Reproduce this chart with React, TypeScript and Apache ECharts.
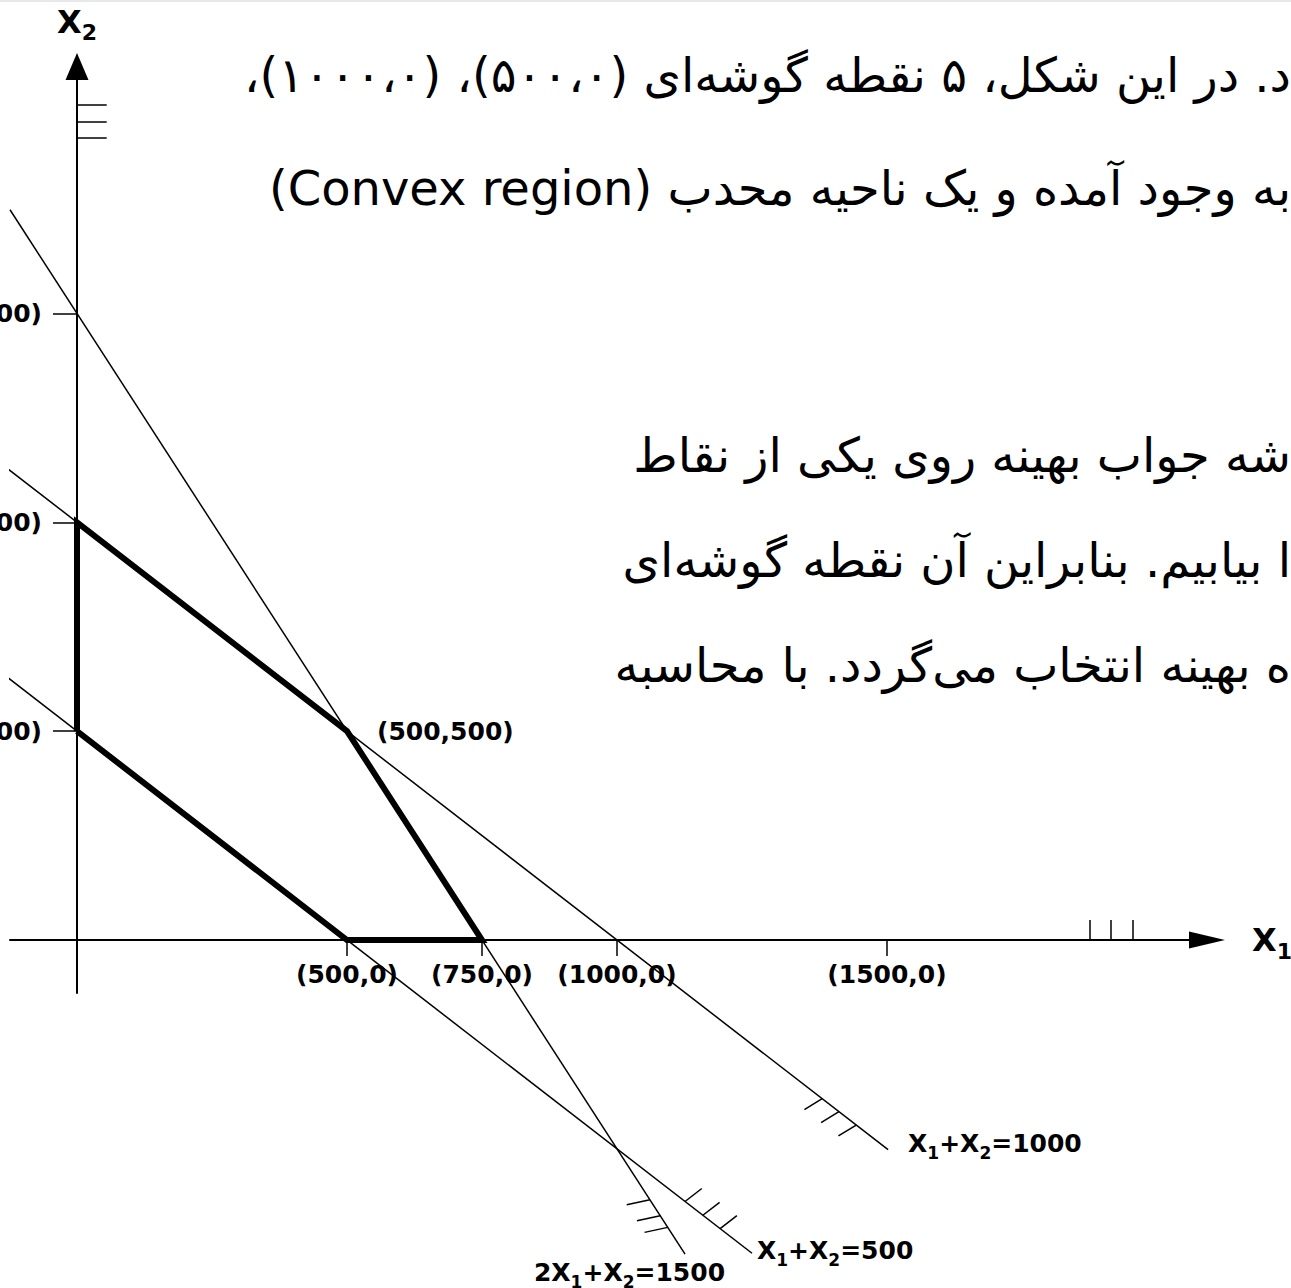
import React, { useEffect, useRef } from "react";
import * as echarts from "echarts";

// ---------- data ----------
const xTickValues = [500, 750, 1000, 1500];
const yTickValues = [500, 1000, 1500];

// constraint lines (x1, x2) end points
const line1000 = [[-142.6, 1142.6], [1502, -502]];
const line500 = [[-142.6, 642.6], [1250, -750]];
const line1500 = [[-124.1, 1748.2], [1126, -752]];

// feasible region boundary
const feasibleRegion = [[0, 500], [0, 1000], [500, 500], [750, 0], [500, 0], [0, 500]];

// hatch marks (start, end) in data coordinates
const hatchOn1000 = [
  [[1380, -380], [1347, -406]],
  [[1411, -411], [1378, -437]],
  [[1443, -443], [1410, -469]],
];
const hatchOn500 = [
  [[1126, -626], [1157, -595]],
  [[1159, -659], [1190, -628]],
  [[1191, -691], [1222, -660]],
];
const hatchOn1500 = [
  [[1061, -622], [1018, -634]],
  [[1080, -660], [1037, -672]],
  [[1094, -688], [1051, -700]],
];
const hatchYAxis = [
  [[0, 2000], [55, 2000]],
  [[0, 1960], [55, 1960]],
  [[0, 1920], [55, 1920]],
];
const hatchXAxis = [
  [[1875, 0], [1875, 48]],
  [[1915, 0], [1915, 48]],
  [[1955, 0], [1955, 48]],
];

// labelled points
const labelPoints = [[1502, -502], [1250, -750], [1126, -752], [500, 500]];
const labelTexts = [
  "{m|X}{s|1}{m|+X}{s|2}{m|=1000}",
  "{m|X}{s|1}{m|+X}{s|2}{m|=500}",
  "{m|2X}{s|1}{m|+X}{s|2}{m|=1500}",
  "{m|(500,500)}",
];

// surrounding Persian text (visible fragments)
const persianLines = [
  "د. در این شکل، ۵ نقطه گوشه‌ای (۵۰۰،۰)، (۱۰۰۰،۰)،",
  "به وجود آمده و یک ناحیه محدب (Convex region)",
  "شه جواب بهینه روی یکی از نقاط",
  "ا بیابیم. بنابراین آن نقطه گوشه‌ای",
  "ه بهینه انتخاب می‌گردد. با محاسبه",
];

// ---------- layout ----------
const W = 1291;
const H = 1288;
const originX = 77;
const originY = 940;
const pxPerX = 0.54;
const pxPerY = 0.4177;
const gridLeft = 10;
const gridRight = 84;
const gridTop = 66.5;
const gridBottom = 295;

const FONT = "'DejaVu Sans', sans-serif";

const mainRich = {
  m: { fontSize: 25, fontWeight: "bold", fontFamily: FONT, color: "#000", lineHeight: 36, textBorderWidth: 0, opacity: 1 },
  s: { fontSize: 17, fontWeight: "bold", fontFamily: FONT, color: "#000", lineHeight: 12, verticalAlign: "bottom", textBorderWidth: 0, opacity: 1 },
};
const nameRich = {
  m: { fontSize: 32, fontWeight: "bold", fontFamily: FONT, color: "#000", lineHeight: 44 },
  s: { fontSize: 22, fontWeight: "bold", fontFamily: FONT, color: "#000", lineHeight: 16, verticalAlign: "bottom" },
};

export default function App() {
  const ref = useRef<HTMLDivElement>(null);

  useEffect(() => {
    document.body.style.margin = "0";
    const el = ref.current;
    if (!el) return;
    const chart = echarts.init(el, undefined, { renderer: "svg", width: W, height: H });

    const xMin = (gridLeft - originX) / pxPerX;
    const xMax = (W - gridRight - originX) / pxPerX;
    const yMax = (originY - gridTop) / pxPerY;
    const yMin = (originY - (H - gridBottom)) / pxPerY;

    const thin = { color: "#000", width: 1.5 };
    const allHatches = [...hatchOn1000, ...hatchOn500, ...hatchOn1500, ...hatchYAxis, ...hatchXAxis];

    const labelCfg = [
      { align: "left", offset: [20, -6] },
      { align: "left", offset: [5, -3] },
      { align: "right", offset: [40, 18] },
      { align: "left", offset: [30, 0] },
    ];

    const lineYs = [75, 188, 455, 560, 665];

    const option: any = {
      animation: false,
      backgroundColor: "#fff",
      grid: {
        left: gridLeft,
        right: gridRight,
        top: gridTop,
        bottom: gridBottom,
        containLabel: false,
        outerBoundsMode: "none",
      },
      xAxis: {
        type: "value",
        min: xMin,
        max: xMax,
        name: "{m|X}{s|1}",
        nameLocation: "end",
        nameGap: 45,
        nameMoveOverlap: false,
        nameTextStyle: { rich: nameRich },
        axisLine: {
          show: true,
          onZero: true,
          symbol: ["none", "triangle"],
          symbolSize: [17, 36],
          lineStyle: { color: "#000", width: 2 },
        },
        axisTick: {
          show: true,
          customValues: xTickValues,
          length: 16,
          lineStyle: { color: "#000", width: 1.5 },
        },
        axisLabel: {
          show: true,
          customValues: xTickValues,
          formatter: (v: number) => `(${v},0)`,
          margin: -31,
          color: "#000",
          fontFamily: FONT,
          fontWeight: "bold",
          fontSize: 25,
        },
        splitLine: { show: false },
      },
      yAxis: {
        type: "value",
        min: yMin,
        max: yMax,
        name: "{m|X}{s|2}",
        nameLocation: "end",
        nameGap: 23,
        nameMoveOverlap: false,
        nameTextStyle: { rich: nameRich },
        axisLine: {
          show: true,
          onZero: true,
          symbol: ["none", "triangle"],
          symbolSize: [23, 27],
          lineStyle: { color: "#000", width: 2 },
        },
        axisTick: {
          show: true,
          customValues: yTickValues,
          length: 24,
          lineStyle: { color: "#000", width: 1.5 },
        },
        axisLabel: {
          show: true,
          customValues: yTickValues,
          formatter: (v: number) => `(0,${v})`,
          margin: -32,
          color: "#000",
          fontFamily: FONT,
          fontWeight: "bold",
          fontSize: 25,
        },
        splitLine: { show: false },
      },
      series: [
        { type: "line", name: "X1+X2=1000", data: line1000, symbol: "none", clip: false, silent: true, z: 3, lineStyle: thin },
        { type: "line", name: "X1+X2=500", data: line500, symbol: "none", clip: false, silent: true, z: 3, lineStyle: thin },
        { type: "line", name: "2X1+X2=1500", data: line1500, symbol: "none", clip: false, silent: true, z: 3, lineStyle: thin },
        {
          type: "line",
          name: "feasible",
          data: feasibleRegion,
          symbol: "none",
          clip: false,
          silent: true,
          z: 4,
          lineStyle: { color: "#000", width: 6, join: "miter" },
        },
        {
          type: "lines",
          coordinateSystem: "cartesian2d",
          clip: false,
          silent: true,
          z: 3,
          lineStyle: { color: "#000", width: 1.5, opacity: 1, curveness: 0 },
          data: allHatches.map((c) => ({ coords: c })),
        },
        {
          type: "scatter",
          clip: false,
          silent: true,
          symbolSize: 0,
          z: 5,
          itemStyle: { color: "#000", opacity: 1 },
          label: {
            show: true,
            position: "right",
            distance: 0,
            verticalAlign: "middle",
            color: "#000",
            opacity: 1,
            textBorderWidth: 0,
            fontFamily: FONT,
            fontWeight: "bold",
            fontSize: 25,
            rich: mainRich,
          },
          data: labelPoints.map((p, i) => ({
            value: p,
            label: { formatter: labelTexts[i], align: labelCfg[i].align, offset: labelCfg[i].offset },
          })),
        },
      ],
      graphic: {
        elements: [
          { type: "rect", shape: { x: 0, y: 0, width: W, height: 2 }, style: { fill: "#e8e8e8" }, silent: true },
          ...persianLines.map((t, i) => ({
            type: "text",
            x: W,
            y: lineYs[i],
            silent: true,
            style: {
              text: "\u202B" + t + "\u202C",
              fontSize: 48,
              fontFamily: FONT,
              fill: "#000",
              align: "right",
              textAlign: "right",
              verticalAlign: "middle",
              textVerticalAlign: "middle",
            },
          })),
        ],
      },
    };

    chart.setOption(option);
    return () => chart.dispose();
  }, []);

  return (
    <div
      ref={ref}
      style={{ position: "absolute", left: 0, top: 0, width: W, height: H, background: "#fff" }}
    />
  );
}
